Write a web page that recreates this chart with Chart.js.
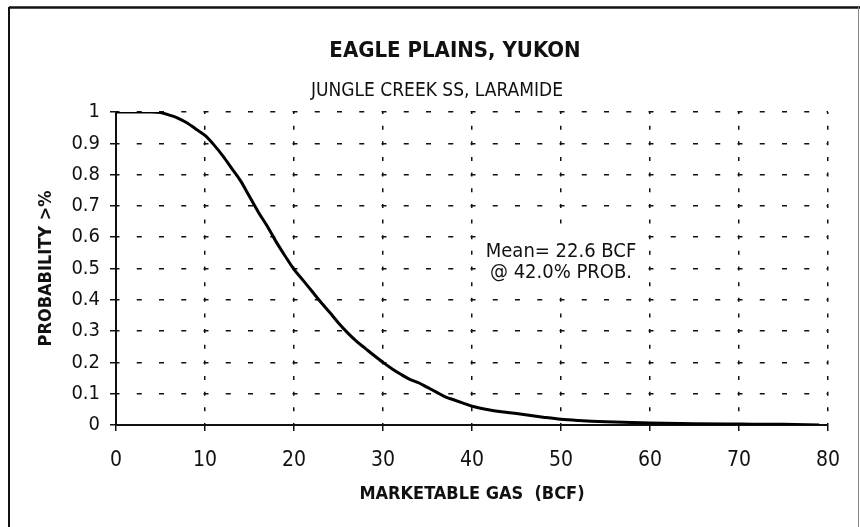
<!DOCTYPE html>
<html><head><meta charset="utf-8">
<script src="https://cdn.jsdelivr.net/npm/chart.js@4.4.0/dist/chart.umd.min.js"></script>
<style>html,body{margin:0;padding:0;background:#fff}canvas{display:block}</style>
</head><body>
<canvas id="c" width="860" height="527"></canvas>
<script>
// ---- data ----
const gasBCF      = [0, 2, 4, 5, 6, 7, 8, 9, 10, 11, 12, 13, 14, 15, 16, 17, 18, 19, 20, 21, 22, 23, 24, 25, 26, 27, 28, 29, 30, 31, 32, 33, 34, 35, 36, 37, 38, 39, 40, 42, 44, 46, 48, 50, 52, 55, 60, 65, 70, 75, 79];
const probability = [1.0, 1.0, 1.0, 0.998, 0.99, 0.98, 0.965, 0.945, 0.925, 0.895, 0.86, 0.82, 0.78, 0.73, 0.68, 0.635, 0.585, 0.54, 0.497, 0.463, 0.428, 0.393, 0.36, 0.326, 0.295, 0.268, 0.245, 0.222, 0.2, 0.18, 0.162, 0.146, 0.135, 0.12, 0.105, 0.09, 0.08, 0.07, 0.06, 0.048, 0.04, 0.033, 0.025, 0.018, 0.014, 0.01, 0.006, 0.004, 0.003, 0.002, 0.0];
const xTickValues = [0, 10, 20, 30, 40, 50, 60, 70, 80];
const yTickValues = [0, 0.1, 0.2, 0.3, 0.4, 0.5, 0.6, 0.7, 0.8, 0.9, 1];
const yTickLabels = ['0', '0.1', '0.2', '0.3', '0.4', '0.5', '0.6', '0.7', '0.8', '0.9', '1'];
const chartTitle    = 'EAGLE PLAINS, YUKON';
const chartSubtitle = 'JUNGLE CREEK SS, LARAMIDE';
const xAxisTitle    = 'MARKETABLE GAS  (BCF)';
const yAxisTitle    = 'PROBABILITY >%';
const annotationLines  = ['Mean= 22.6 BCF', '@ 42.0% PROB.'];
const annotationAnchor = {x: 50, y: 0.52};

// ---- styling ----
const FONT = '"Liberation Sans Narrow", "DejaVu Sans Condensed", "Liberation Sans", sans-serif';
const INK = '#111';

const points = gasBCF.map((x, i) => ({x: x, y: probability[i]}));

const framePlugin = {
  id: 'frame',
  beforeDraw(chart) {
    const ctx = chart.ctx;
    ctx.save();
    ctx.fillStyle = '#fff';
    ctx.fillRect(0, 0, chart.width, chart.height);
    ctx.strokeStyle = INK;
    ctx.lineWidth = 2.5;
    ctx.beginPath(); ctx.moveTo(9, 7.5); ctx.lineTo(860, 7.5); ctx.stroke();
    ctx.lineWidth = 2;
    ctx.beginPath(); ctx.moveTo(9, 7); ctx.lineTo(9, 527); ctx.stroke();
    ctx.strokeStyle = '#888';
    ctx.lineWidth = 1;
    ctx.beginPath(); ctx.moveTo(858.5, 7); ctx.lineTo(858.5, 527); ctx.stroke();
    ctx.restore();
  }
};

const headerPlugin = {
  id: 'header',
  afterDraw(chart) {
    const ctx = chart.ctx;
    ctx.save();
    ctx.fillStyle = INK;
    ctx.textAlign = 'center';
    ctx.textBaseline = 'middle';
    ctx.font = 'bold 22px ' + FONT;
    ctx.fillText(chartTitle, 455, 51);
    ctx.font = '19px ' + FONT;
    ctx.fillText(chartSubtitle, 437, 91);
    ctx.restore();
  }
};

const annotationPlugin = {
  id: 'meanNote',
  beforeDatasetsDraw(chart) {
    const ctx = chart.ctx;
    const xs = chart.scales.x, ys = chart.scales.y;
    const cx = xs.getPixelForValue(annotationAnchor.x);
    const cy = ys.getPixelForValue(annotationAnchor.y);
    ctx.save();
    ctx.fillStyle = '#fff';
    ctx.fillRect(cx - 82, cy - 33, 162, 62);
    ctx.fillStyle = INK;
    ctx.textAlign = 'center';
    ctx.textBaseline = 'middle';
    ctx.font = '20px ' + FONT;
    ctx.fillText(annotationLines[0], cx, cy - 10);
    ctx.fillText(annotationLines[1], cx, cy + 11);
    ctx.restore();
  }
};

new Chart(document.getElementById('c'), {
  type: 'line',
  data: {
    datasets: [{
      data: points,
      borderColor: '#000',
      borderWidth: 3,
      pointRadius: 0,
      fill: false,
      cubicInterpolationMode: 'monotone'
    }]
  },
  options: {
    responsive: false,
    animation: false,
    layout: {padding: {top: 112, left: 10, right: 32, bottom: 0}},
    plugins: {legend: {display: false}, tooltip: {enabled: false}, title: {display: false}},
    scales: {
      x: {
        type: 'linear', min: 0, max: 80,
        afterBuildTicks(s) { s.ticks = xTickValues.map(v => ({value: v})); },
        afterFit(s) { s.height = 102; },
        ticks: {color: INK, font: {family: FONT, size: 21}, padding: 17, maxRotation: 0,
                callback: v => String(v)},
        grid: {color: INK, lineWidth: 1.5, tickLength: 6, tickColor: INK, tickWidth: 1.5},
        border: {display: true, color: INK, width: 2, dash: [4, 11.65], dashOffset: 2},
        title: {display: true, text: xAxisTitle, color: INK,
                font: {family: FONT, size: 18, weight: 'bold'}, padding: {top: 0, bottom: 22}}
      },
      y: {
        min: 0, max: 1,
        afterBuildTicks(s) { s.ticks = yTickValues.map(v => ({value: v})); },
        afterFit(s) { s.width = 106; },
        ticks: {color: INK, font: {family: FONT, size: 20}, padding: 10,
                callback: (v, i) => yTickLabels[i]},
        grid: {color: INK, lineWidth: 1.5, tickLength: 6, tickColor: INK, tickWidth: 1.5},
        border: {display: true, color: INK, width: 2, dash: [5, 17.25], dashOffset: 2.5},
        title: {display: true, text: yAxisTitle, color: INK,
                font: {family: FONT, size: 18, weight: 'bold'}, padding: {top: 26, bottom: 0}}
      }
    }
  },
  plugins: [framePlugin, annotationPlugin, headerPlugin]
});
</script>
</body></html>
